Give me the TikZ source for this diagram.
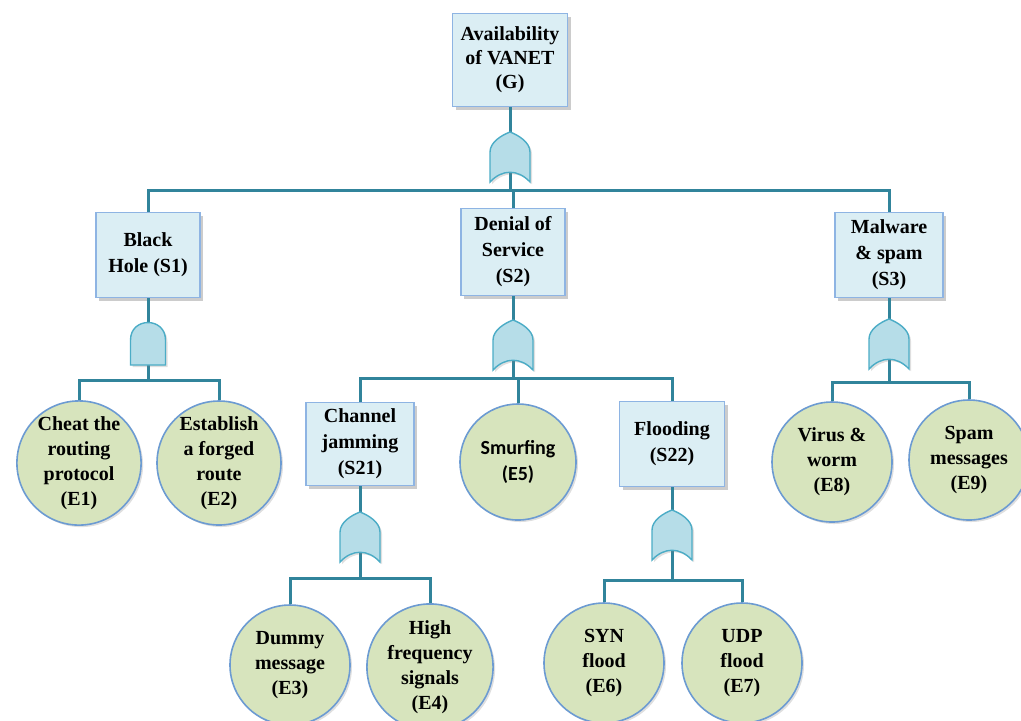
\documentclass[tikz,border=0pt]{standalone}
\usepackage{fontspec}
\setmainfont{Liberation Serif}
\newfontfamily\calibri{Carlito}
\usetikzlibrary{shadows}
\definecolor{boxfill}{HTML}{DBEEF4}
\definecolor{boxline}{HTML}{8EB4E3}
\definecolor{evfill}{HTML}{D7E4BD}
\definecolor{evline}{HTML}{6C9BD2}
\definecolor{wirecol}{HTML}{31849B}
\definecolor{gatefill}{HTML}{B6DDE8}
\definecolor{gateline}{HTML}{4BACC6}

\begin{document}
\begin{tikzpicture}[x=0.5pt, y=-0.5pt,
    txt/.style={font=\bfseries\fontsize{10}{13}\selectfont, align=center},
    box/.style={txt, draw=boxline, line width=0.8pt, fill=boxfill, inner sep=1pt,
      drop shadow={shadow xshift=1.5pt, shadow yshift=-1.5pt, opacity=0.4}},
    ev/.style={txt, circle, draw=evline, line width=0.8pt, fill=evfill, minimum size=60pt, inner sep=0pt,
      font=\bfseries\fontsize{10}{12.5}\selectfont,
      drop shadow={shadow xshift=1pt, shadow yshift=-1pt, opacity=0.25}},
    wire/.style={draw=wirecol, line width=1.5pt},
    gate/.style={fill=gatefill, draw=gateline, line width=0.7pt,
      drop shadow={shadow xshift=1pt, shadow yshift=-1pt, opacity=0.25}},
    orgate/.pic={\draw[gate] (-20,25) -- (-20,-5) .. controls (-20,-15) and (-8,-22) .. (0,-25)
      .. controls (8,-22) and (20,-15) .. (20,-5) -- (20,25) .. controls (8,12) and (-8,12) .. (-20,25) -- cycle;},
    andgate/.pic={\draw[gate] (-17.5,21) -- (-17.5,-4) .. controls (-17.5,-27.3) and (17.5,-27.3) .. (17.5,-4)
      -- (17.5,21) -- cycle;}]
  \clip (0,0) rectangle (1021,720);

  % goal and sub goals
  \node[box, minimum width=57.5pt, minimum height=46.5pt, font=\bfseries\fontsize{10}{12}\selectfont] (G) at (510,60) {Availability\\of VANET\\(G)};
  \node[box, minimum width=52pt, minimum height=42.5pt] (S1) at (148,255) {Black\\Hole (S1)};
  \node[box, minimum width=52pt, minimum height=43.5pt] (S2) at (513,252) {Denial of\\Service\\(S2)};
  \node[box, minimum width=54pt, minimum height=42.5pt] (S3) at (889,255) {Malware\\\& spam\\(S3)};
  \node[box, minimum width=54pt, minimum height=41.5pt] (S21) at (360,444) {Channel\\jamming\\(S21)};
  \node[box, minimum width=52.5pt, minimum height=42.5pt] (S22) at (672,444) {Flooding\\(S22)};

  % basic events
  \foreach \n/\x/\y/\s/\t in {E1/79/463/62/{Cheat the\\routing\\protocol\\(E1)}, E2/219/463/62/{Establish\\a forged\\route\\(E2)},
      E3/290/665/60/{Dummy\\message\\(E3)}, E4/430/667/60/{High\\frequency\\signals\\(E4)},
      E6/604/663/60/{SYN\\flood\\(E6)}, E7/742/663/60/{UDP\\flood\\(E7)},
      E8/832/462/60/{Virus \&\\worm\\(E8)}, E9/969/460/60/{Spam\\messages\\(E9)}}
    \node[ev, minimum size=\s pt] (\n) at (\x,\y) {\t};
  \node[ev, minimum size=58pt, font=\calibri\bfseries\fontsize{10}{13}\selectfont] (E5) at (518,462) {Smurfing\\(E5)};

  % bars under the gates
  \coordinate (b0) at (510,190);
  \coordinate (b1) at (148,380);
  \coordinate (b2) at (513,378);
  \coordinate (b21) at (360,578);
  \coordinate (b22) at (672,580);
  \coordinate (b3) at (889,382);

  \draw[wire] (G) -- (b0);
  \foreach \c in {S1,S2,S3} \draw[wire] (b0) -| (\c.north);
  \draw[wire] (S1) -- (b1);
  \foreach \c in {E1,E2} \draw[wire] (b1) -| (\c.north);
  \draw[wire] (S2) -- (b2);
  \foreach \c in {S21,E5,S22} \draw[wire] (b2) -| (\c.north);
  \draw[wire] (S21) -- (b21);
  \foreach \c in {E3,E4} \draw[wire] (b21) -| (\c.north);
  \draw[wire] (S22) -- (b22);
  \foreach \c in {E6,E7} \draw[wire] (b22) -| (\c.north);
  \draw[wire] (S3) -- (b3);
  \foreach \c in {E8,E9} \draw[wire] (b3) -| (\c.north);

  % gates
  \foreach \g/\x/\y in {g0/510/157, g2/513/345, g21/360/537, g22/672/535, g3/889/344}
    \pic (\g) at (\x,\y) {orgate};
  \pic (g1) at (148,344) {andgate};
\end{tikzpicture}
\end{document}
